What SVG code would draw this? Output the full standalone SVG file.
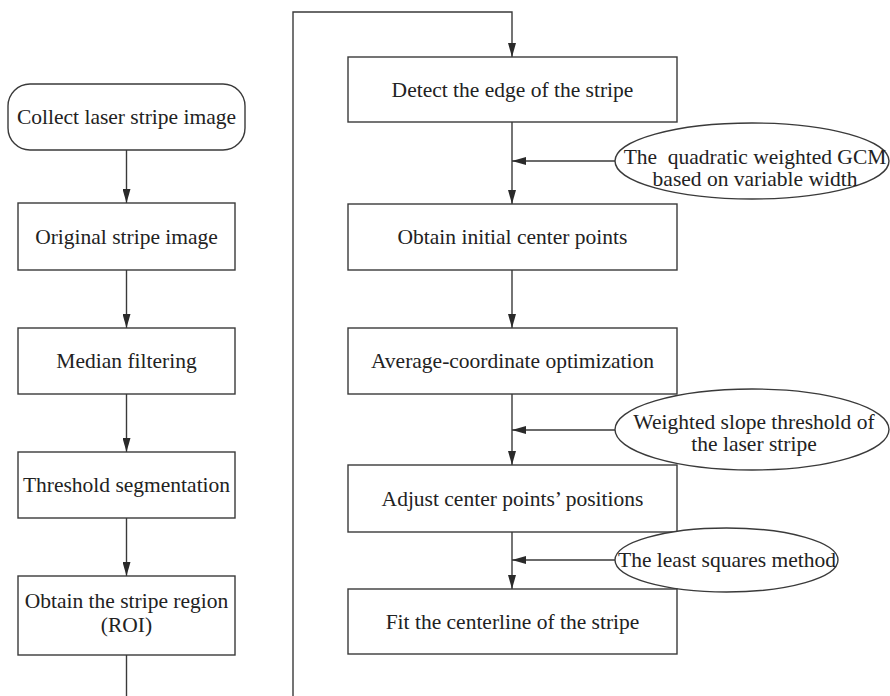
<svg xmlns="http://www.w3.org/2000/svg" width="890" height="696" viewBox="0 0 890 696">
<style>
.box{fill:#fff;stroke:#3a3a3a;stroke-width:1.4}
.ln{fill:none;stroke:#3a3a3a;stroke-width:1.4}
text{font-family:"Liberation Serif","Times New Roman",serif;font-size:21.5px;fill:#222;text-anchor:middle}
</style>
<defs>
<marker id="ah" markerWidth="14" markerHeight="8" refX="14" refY="4" orient="auto" markerUnits="userSpaceOnUse">
<path d="M0,0 L14,4 L0,8 Z" fill="#2a2a2a"/>
</marker>
</defs>
<rect width="890" height="696" fill="#fff"/>
<g id="connectors">
<line class="ln" x1="126.5" y1="150" x2="126.5" y2="203" marker-end="url(#ah)"/>
<line class="ln" x1="126.5" y1="270" x2="126.5" y2="328" marker-end="url(#ah)"/>
<line class="ln" x1="126.5" y1="394" x2="126.5" y2="452" marker-end="url(#ah)"/>
<line class="ln" x1="126.5" y1="518" x2="126.5" y2="576" marker-end="url(#ah)"/>
<line class="ln" x1="126.5" y1="655" x2="126.5" y2="696"/>
<polyline class="ln" points="293,696 293,12 512,12 512,57" marker-end="url(#ah)"/>
<line class="ln" x1="512" y1="122" x2="512" y2="204" marker-end="url(#ah)"/>
<line class="ln" x1="512" y1="270" x2="512" y2="328" marker-end="url(#ah)"/>
<line class="ln" x1="512" y1="394" x2="512" y2="465" marker-end="url(#ah)"/>
<line class="ln" x1="512" y1="532" x2="512" y2="589" marker-end="url(#ah)"/>
<line class="ln" x1="615" y1="161" x2="512" y2="161" marker-end="url(#ah)"/>
<line class="ln" x1="615" y1="430" x2="512" y2="430" marker-end="url(#ah)"/>
<line class="ln" x1="615" y1="560" x2="512" y2="560" marker-end="url(#ah)"/>
</g>
<g id="collect">
<rect class="box" x="8" y="84" width="237" height="66" rx="22" ry="22"/>
<text x="126.5" y="124">Collect laser stripe image</text>
</g>
<g id="original">
<rect class="box" x="18" y="203" width="217" height="67"/>
<text x="126.5" y="244">Original stripe image</text>
</g>
<g id="median">
<rect class="box" x="18" y="328" width="217" height="66"/>
<text x="126.5" y="368">Median filtering</text>
</g>
<g id="threshold">
<rect class="box" x="18" y="452" width="217" height="66"/>
<text x="126.5" y="492">Threshold segmentation</text>
</g>
<g id="roi">
<rect class="box" x="18" y="576" width="217" height="79"/>
<text x="126.5" y="608">Obtain the stripe region</text>
<text x="126.5" y="632">(ROI)</text>
</g>
<g id="detect">
<rect class="box" x="348" y="57" width="329" height="65"/>
<text x="512.5" y="97">Detect the edge of the stripe</text>
</g>
<g id="gcm">
<ellipse class="box" cx="752" cy="161" rx="137" ry="38"/>
<text x="755" y="164" xml:space="preserve">The  quadratic weighted GCM</text>
<text x="755" y="186">based on variable width</text>
</g>
<g id="initial">
<rect class="box" x="348" y="204" width="329" height="66"/>
<text x="512.5" y="244">Obtain initial center points</text>
</g>
<g id="average">
<rect class="box" x="348" y="328" width="329" height="66"/>
<text x="512.5" y="368">Average-coordinate optimization</text>
</g>
<g id="slope">
<ellipse class="box" cx="752" cy="429.5" rx="137" ry="40.5"/>
<text x="754" y="429">Weighted slope threshold of</text>
<text x="754" y="451">the laser stripe</text>
</g>
<g id="adjust">
<rect class="box" x="348" y="465" width="329" height="67"/>
<text x="512.5" y="506">Adjust center points’ positions</text>
</g>
<g id="lsq">
<ellipse class="box" cx="726.5" cy="560" rx="111.5" ry="32"/>
<text x="727" y="567">The least squares method</text>
</g>
<g id="fit">
<rect class="box" x="348" y="589" width="329" height="65"/>
<text x="512.5" y="629">Fit the centerline of the stripe</text>
</g>
</svg>
